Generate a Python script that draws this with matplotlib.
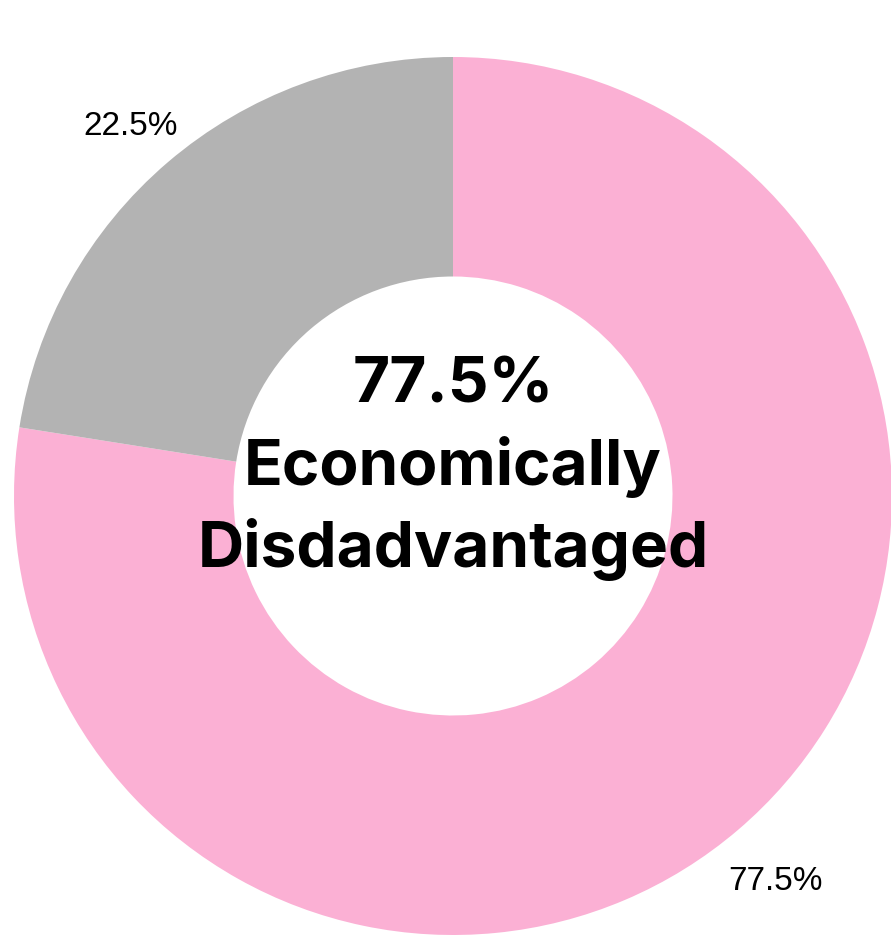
import matplotlib.pyplot as plt

# share of students by economic status
labels = ["Economically Disadvantaged", "Not Economically Disadvantaged"]
shares = [77.5, 22.5]
colors = ["#FBB0D4", "#B3B3B3"]
center_lines = ["77.5%", "Economically", "Disdadvantaged"]

fig = plt.figure(figsize=(8.91, 9.35), dpi=100)
ax = fig.add_axes([0, 0, 1, 1])

wedges, texts, autotexts = ax.pie(
    shares,
    colors=colors,
    startangle=90,
    counterclock=False,
    radius=1.0,
    wedgeprops=dict(width=0.5, linewidth=0),
    autopct="%.1f%%",
    pctdistance=1.13,
    textprops=dict(fontsize=24, family="Liberation Sans", color="black"),
)
# nudge the outside percentages down a little
for t in autotexts:
    x, y = t.get_position()
    t.set_position((x, y - 0.018))

# centre caption, one line at a time
baseline = 0.212
step = 0.187
for i, line in enumerate(center_lines):
    ax.text(0, baseline - i * step, line, ha="center", va="baseline",
            fontsize=46, fontweight="bold", family="Inter", color="black")

# one data unit = 439 px, pie centre at (453, 496) px
ax.set_aspect("auto")
ax.set_xlim(-453 / 439, (891 - 453) / 439)
ax.set_ylim(-(935 - 496) / 439, 496 / 439)
ax.axis("off")

fig.savefig("out.png", dpi=100)
